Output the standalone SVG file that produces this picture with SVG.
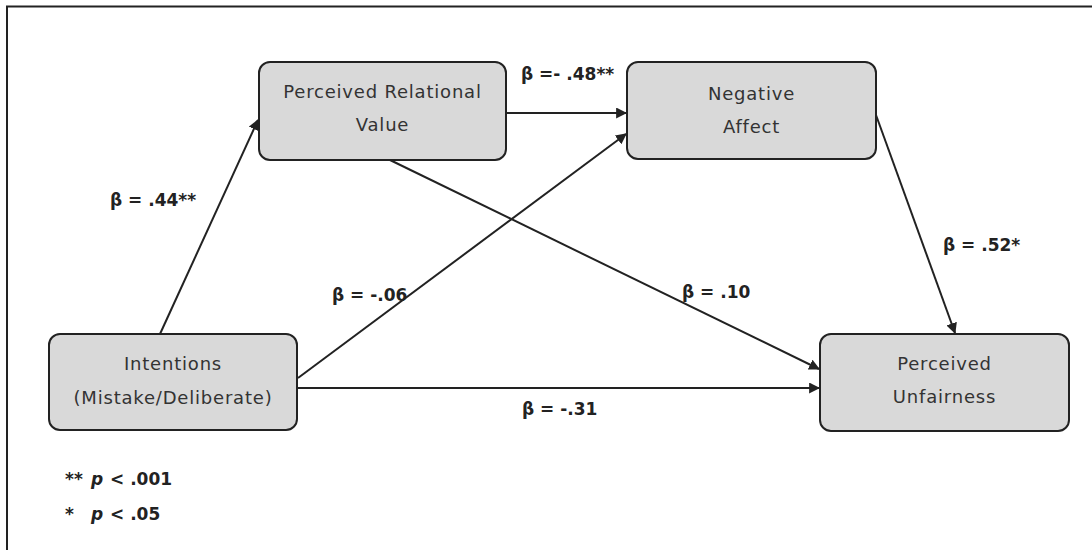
<svg xmlns="http://www.w3.org/2000/svg" width="1092" height="550" viewBox="0 0 1092 550">
<defs>
<marker id="ah" viewBox="0 0 10 10" refX="9" refY="5" markerWidth="5.5" markerHeight="5.5" orient="auto" markerUnits="strokeWidth">
<path d="M0,0 L10,5 L0,10 z" fill="#222"/>
</marker>
<style>
.node rect{fill:#d9d9d9;stroke:#222;stroke-width:2}
.node text{font-family:"DejaVu Sans",sans-serif;font-size:18px;letter-spacing:0.8px;fill:#333;text-anchor:middle}
.edge{stroke:#222;stroke-width:2;fill:none;marker-end:url(#ah)}
.lbl{font-family:"DejaVu Sans",sans-serif;font-size:17px;font-weight:bold;fill:#222}
</style>
</defs>
<rect width="1092" height="550" fill="#fff"/>
<path d="M7,550 V6.5 H1092" fill="none" stroke="#222" stroke-width="2"/>
<g id="connectors">
<line class="edge" x1="160" y1="334" x2="258" y2="120"/>
<line class="edge" x1="506" y1="113" x2="626" y2="113"/>
<line class="edge" x1="298" y1="378" x2="626" y2="134"/>
<line class="edge" x1="390" y1="160" x2="819" y2="369"/>
<line class="edge" x1="876" y1="115" x2="955" y2="333"/>
<line class="edge" x1="298" y1="388" x2="819" y2="388"/>
</g>
<g id="n-prv" class="node">
<rect x="259" y="62" width="247" height="98" rx="11"/>
<text x="382.5" y="98">Perceived Relational</text>
<text x="382.5" y="131">Value</text>
</g>
<g id="n-na" class="node">
<rect x="627" y="62" width="249" height="97" rx="11"/>
<text x="751.5" y="100">Negative</text>
<text x="751.5" y="133">Affect</text>
</g>
<g id="n-int" class="node">
<rect x="49" y="334" width="248" height="96" rx="11"/>
<text x="173" y="370">Intentions</text>
<text x="173" y="404">(Mistake/Deliberate)</text>
</g>
<g id="n-pu" class="node">
<rect x="820" y="334" width="249" height="97" rx="11"/>
<text x="944.5" y="370">Perceived</text>
<text x="944.5" y="403">Unfairness</text>
</g>
<g id="labels">
<text class="lbl" x="521" y="80">β =- .48**</text>
<text class="lbl" x="110" y="206">β = .44**</text>
<text class="lbl" x="332" y="301">β = -.06</text>
<text class="lbl" x="682" y="298">β = .10</text>
<text class="lbl" x="943" y="251">β = .52*</text>
<text class="lbl" x="522" y="415">β = -.31</text>
<text class="lbl" x="65" y="485">**<tspan x="91" font-style="italic">p</tspan><tspan x="110">&lt; .001</tspan></text>
<text class="lbl" x="65" y="520">*<tspan x="91" font-style="italic">p</tspan><tspan x="110">&lt; .05</tspan></text>
</g>
</svg>
